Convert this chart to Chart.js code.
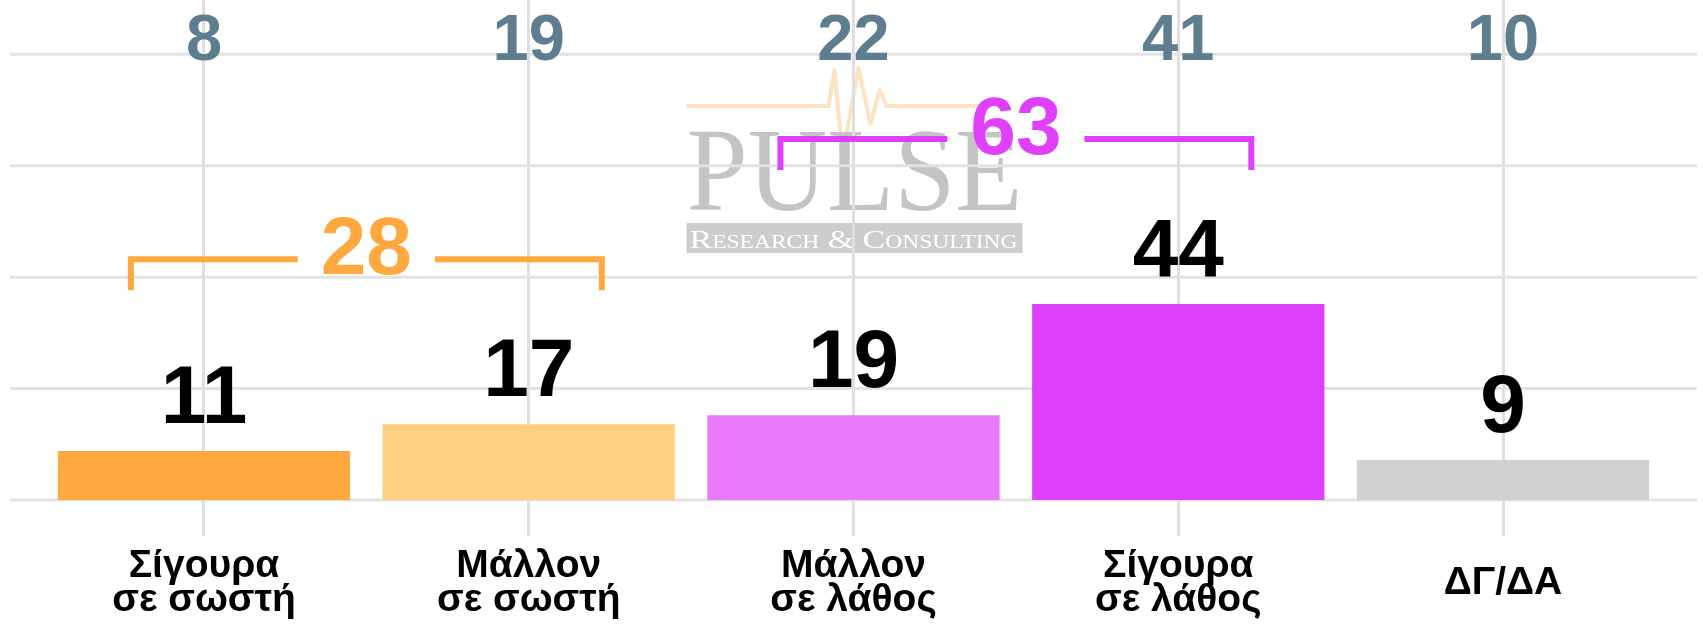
<!DOCTYPE html>
<html>
<head>
<meta charset="utf-8">
<script src="https://cdn.jsdelivr.net/npm/chart.js@4.4.1/dist/chart.umd.min.js"></script>
<style>
html, body { margin: 0; padding: 0; background: #ffffff; }
#wrap { width: 1703px; height: 630px; position: relative; }
canvas { display: block; }
</style>
</head>
<body>
<div id="wrap"><canvas id="c" width="1703" height="630"></canvas></div>
<script>
// ---- data ----
const categories = [["Σίγουρα", "σε σωστή"], ["Μάλλον", "σε σωστή"], ["Μάλλον", "σε λάθος"], ["Σίγουρα", "σε λάθος"], "ΔΓ/ΔΑ"];
const currentValues = [11, 17, 19, 44, 9];
const previousValues = [8, 19, 22, 41, 10];
const barColors = ["#FEA83F", "#FED082", "#E87CF8", "#DE3FFA", "#D1D1D1"];
const gridValues = [0, 25, 50, 75, 100];
const groupTotals = [28, 63];
const groupMembers = [[0, 1], [2, 3]];
const groupLevels = [54, 81];
const groupColors = ["#FEA83F", "#E040FB"];

const FONT = "'Liberation Sans', Arial, sans-serif";
const SERIF = "'Liberation Serif', 'Times New Roman', serif";

function fitText(ctx, txt, x, y, targetWidth) {
  const w = ctx.measureText(txt).width;
  ctx.save();
  ctx.translate(x, y);
  ctx.scale(targetWidth / w, 1);
  ctx.fillText(txt, 0, 0);
  ctx.restore();
}

const watermarkPlugin = {
  id: 'watermark',
  beforeDraw(chart) {
    const ctx = chart.ctx;
    const cx = chart.scales.x.getPixelForValue(2);
    const left = cx - 167, right = cx + 169;
    ctx.save();
    // heartbeat line
    ctx.strokeStyle = '#FBE3C4';
    ctx.lineWidth = 4;
    ctx.lineJoin = 'round';
    ctx.beginPath();
    ctx.moveTo(left, 106);
    ctx.lineTo(cx - 25, 106);
    ctx.lineTo(cx - 19, 70);
    ctx.lineTo(cx - 11, 156);
    ctx.lineTo(cx + 5, 68);
    ctx.lineTo(cx + 17, 124);
    ctx.lineTo(cx + 26, 90);
    ctx.lineTo(cx + 33, 106);
    ctx.lineTo(cx + 130, 106);
    ctx.stroke();
    // PULSE
    ctx.fillStyle = '#C4C4C4';
    ctx.font = '400 118px ' + SERIF;
    ctx.textAlign = 'left';
    ctx.textBaseline = 'alphabetic';
    fitText(ctx, 'PULSE', left, 210, right - left);
    // box
    ctx.fillStyle = '#CDCDCD';
    ctx.fillRect(left, 223, right - left, 30);
    ctx.fillStyle = '#FFFFFF';
    ctx.font = 'small-caps 400 26px ' + SERIF;
    fitText(ctx, 'Research & Consulting', left + 3, 248, right - left - 8);
    ctx.restore();
  }
};

const hGridPlugin = {
  id: 'hgrid',
  beforeDatasetsDraw(chart) {
    const ctx = chart.ctx;
    const y = chart.scales.y;
    ctx.save();
    ctx.strokeStyle = '#E2E2E2';
    ctx.lineWidth = 3;
    gridValues.forEach(v => {
      const py = y.getPixelForValue(v);
      ctx.beginPath();
      ctx.moveTo(10, py);
      ctx.lineTo(chart.width - 6, py);
      ctx.stroke();
    });
    ctx.restore();
  }
};

const labelsPlugin = {
  id: 'labels',
  afterDatasetsDraw(chart) {
    const ctx = chart.ctx;
    const meta = chart.getDatasetMeta(0);
    const yScale = chart.scales.y;
    ctx.save();
    ctx.textAlign = 'center';
    ctx.textBaseline = 'alphabetic';
    // value labels above bars
    ctx.fillStyle = '#000000';
    ctx.font = 'bold 82px ' + FONT;
    meta.data.forEach((bar, i) => {
      ctx.fillText(String(currentValues[i]), bar.x, bar.y - 28);
    });
    // previous values at the top
    ctx.fillStyle = '#5E7E8F';
    ctx.font = 'bold 65px ' + FONT;
    const topY = yScale.getPixelForValue(gridValues[gridValues.length - 1]) + 6;
    meta.data.forEach((bar, i) => {
      ctx.fillText(String(previousValues[i]), bar.x, topY);
    });
    // group brackets
    ctx.font = 'bold 82px ' + FONT;
    groupTotals.forEach((total, g) => {
      const a = meta.data[groupMembers[g][0]];
      const b = meta.data[groupMembers[g][1]];
      const x1 = a.x - a.width / 4;
      const x2 = b.x + b.width / 4;
      const cx = (a.x + b.x) / 2;
      const yl = yScale.getPixelForValue(groupLevels[g]);
      const txt = String(total);
      const w = ctx.measureText(txt).width;
      ctx.strokeStyle = groupColors[g];
      ctx.fillStyle = groupColors[g];
      ctx.lineWidth = 6;
      ctx.lineJoin = 'miter';
      ctx.lineCap = 'butt';
      ctx.beginPath();
      ctx.moveTo(x1, yl + 31);
      ctx.lineTo(x1, yl);
      ctx.lineTo(cx - w / 2 - 23, yl);
      ctx.stroke();
      ctx.beginPath();
      ctx.moveTo(cx + w / 2 + 23, yl);
      ctx.lineTo(x2, yl);
      ctx.lineTo(x2, yl + 31);
      ctx.stroke();
      ctx.fillText(txt, cx, yl + 15);
    });
    ctx.restore();
  }
};

new Chart(document.getElementById('c'), {
  type: 'bar',
  data: {
    labels: categories,
    datasets: [{
      data: currentValues,
      backgroundColor: barColors,
      borderWidth: 0,
      categoryPercentage: 1.0,
      barPercentage: 0.9
    }]
  },
  options: {
    responsive: false,
    animation: false,
    devicePixelRatio: 1,
    layout: { padding: { left: 41.6, right: 37.6, top: 0, bottom: 0 } },
    plugins: { legend: { display: false }, tooltip: { enabled: false } },
    scales: {
      x: {
        type: 'category',
        offset: true,
        border: { display: false },
        grid: { offset: false, color: '#DFDFDF', lineWidth: 3, tickLength: 36, drawTicks: true },
        ticks: {
          autoSkip: false,
          maxRotation: 0,
          minRotation: 0,
          padding: 13,
          color: '#000000',
          font: (c) => ({
            family: FONT,
            size: 39,
            weight: 'bold',
            lineHeight: Array.isArray(categories[c.index]) ? 34 / 39 : 68 / 39
          })
        }
      },
      y: {
        display: false,
        min: 0,
        max: 112.2
      }
    }
  },
  plugins: [watermarkPlugin, hGridPlugin, labelsPlugin]
});
</script>
</body>
</html>
